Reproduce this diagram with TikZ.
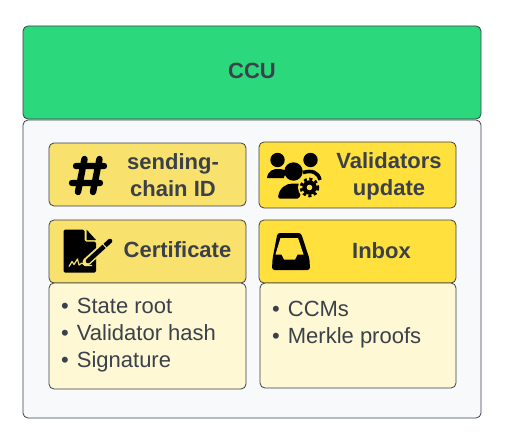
\documentclass[tikz,border=0pt]{standalone}
\usepackage{fontspec}
\usepackage{xcolor}
\setmainfont{Liberation Sans}
\usetikzlibrary{positioning}
\definecolor{inkgray}{HTML}{3A414A}
\definecolor{ccugreen}{HTML}{2CD87C}
\definecolor{panelgray}{HTML}{F8F9FB}
\definecolor{paleyellow}{HTML}{F8E16C}
\definecolor{brightyellow}{HTML}{FFE03C}
\definecolor{creamyellow}{HTML}{FFF8D4}
\tikzstyle{block}     = [rectangle, draw=inkgray, line width=0.8pt, rounded corners=5pt, inner sep=0pt, text=inkgray]
\tikzstyle{head}      = [block, minimum width=197pt, minimum height=63pt, font=\fontsize{22}{27}\selectfont\bfseries]
\tikzstyle{listbox}   = [block, fill=creamyellow, minimum width=197pt, minimum height=106pt]
\tikzstyle{listtext}  = [text=inkgray, inner sep=0pt, anchor=north west, align=left, font=\fontsize{22}{27}\selectfont]
\tikzstyle{title}     = [text=inkgray, inner sep=0pt, align=center, font=\fontsize{22}{26.5}\selectfont\bfseries]
\tikzset{every node/.style={align=center}}

\begin{document}
\begin{tikzpicture}[x=1pt, y=-1pt]
    \useasboundingbox (0,0) rectangle (510,444);
    \node (panel) at (252, 269)   [block, fill=panelgray, minimum width=458pt, minimum height=298pt] {};
    \node (ccu)   at (252, 72.5)  [block, fill=ccugreen, minimum width=458pt, minimum height=93pt] {};
    \node (ccutxt) at (252, 70.5) [title] {CCU};

    \node (chain) at (147.5, 174.5) [head, fill=paleyellow] {};
    \node (vals)  at (357.5, 175)   [head, fill=brightyellow, minimum height=66pt] {};
    \node (cert)  at (147.5, 251.5) [head, fill=paleyellow] {};
    \node (inbox) at (357.5, 251.5) [head, fill=brightyellow] {};
    \node (certlist)  at (147.5, 336) [listbox] {};
    \node (inboxlist) at (358, 335.5) [listbox, minimum width=196pt, minimum height=105pt] {};

    \node (chaintxt) at (173, 175)   [title] {sending-\\chain ID};
    \node (valstxt)  at (389, 176.5) [title] {Validators\\update};
    \node (certtxt)  at (177.5, 249.5) [title] {Certificate};
    \node (inboxtxt) at (381.5, 250.5) [title] {Inbox};
    \node (certitems)  at (61, 297.5)  [listtext] {\textbullet\hspace{8pt}State root\\\textbullet\hspace{8pt}Validator hash\\\textbullet\hspace{8pt}Signature};
    \node (inboxitems) at (272, 301) [listtext] {\textbullet\hspace{8pt}CCMs\\\textbullet\hspace{8pt}Merkle proofs};

    % hash icon
    \draw [line width=6.4pt, line cap=round, black]
        (84.5, 159) -- (78, 192)  (99.5, 159) -- (93, 192)
        (76, 166) -- (104, 166)   (72, 183) -- (100, 183);

    % certificate icon
    \fill [black, rounded corners=1.5pt] (63.5, 229.5) -- (84.5, 229.5) -- (84.5, 241.5) -- (96, 241.5)
        -- (96, 272.5) -- (63.5, 272.5) -- cycle;
    \fill [black] (86.5, 229.5) -- (96, 240) -- (86.5, 240) -- cycle;
    \draw [paleyellow, line width=1.2pt, line join=round] (69, 266.5) -- (72, 261.5) -- (74, 264.5) -- (77.5, 259)
        -- (79, 265) -- (82, 263) -- (85, 265.5) -- (92, 265.5);
    \draw [paleyellow, line width=8pt, line cap=round] (86.5, 262) -- (110, 241);
    \draw [black, line width=4.6pt, line cap=round] (88, 261) -- (110, 241);
    \draw [paleyellow, line width=1pt] (101.5, 242.5) -- (106.5, 248);

    % validators icon
    \fill [black] (277.5, 160) circle (7.2);
    \fill [black] (310.5, 160) circle (7.2);
    \fill [black] (267, 178) .. controls (268, 170) and (274, 169) .. (278, 169)
        .. controls (282, 169) and (287, 170) .. (288, 173) .. controls (284, 175) and (284, 177) .. (284, 178) -- cycle;
    \draw [black, line width=3.6pt] (303, 172.5) .. controls (312, 170) and (318, 172) .. (320, 180);
    \fill [black] (293.5, 171.5) circle (9.2);
    \fill [black, rounded corners=1.5pt] (278, 198.5) .. controls (279, 188) and (286, 183.5) .. (294, 183.5)
        .. controls (299, 183.5) and (302, 184.5) .. (304, 185.5) -- (299, 198.5) -- cycle;
    \fill [brightyellow] (309.5, 187.5) circle (11.5);
    \fill [black] (309.5, 187.5) circle (7.2);
    \draw [black, line width=2.8pt, dash pattern=on 3pt off 2.6pt] (309.5, 187.5) circle (8.4);
    \fill [brightyellow] (309.5, 187.5) circle (2.8);

    % inbox icon
    \fill [black, rounded corners=2.5pt] (277.5, 233) -- (301, 233) -- (309.5, 259) -- (310, 270)
        -- (272, 270) -- (272.5, 259) -- cycle;
    \fill [brightyellow] (280.5, 238) -- (298, 238) -- (303.5, 254.5) -- (297.5, 254.5) -- (295, 259.5) -- (284, 259.5) -- (281.5, 254.5) -- (275.5, 254.5) -- cycle;
\end{tikzpicture}
\end{document}
